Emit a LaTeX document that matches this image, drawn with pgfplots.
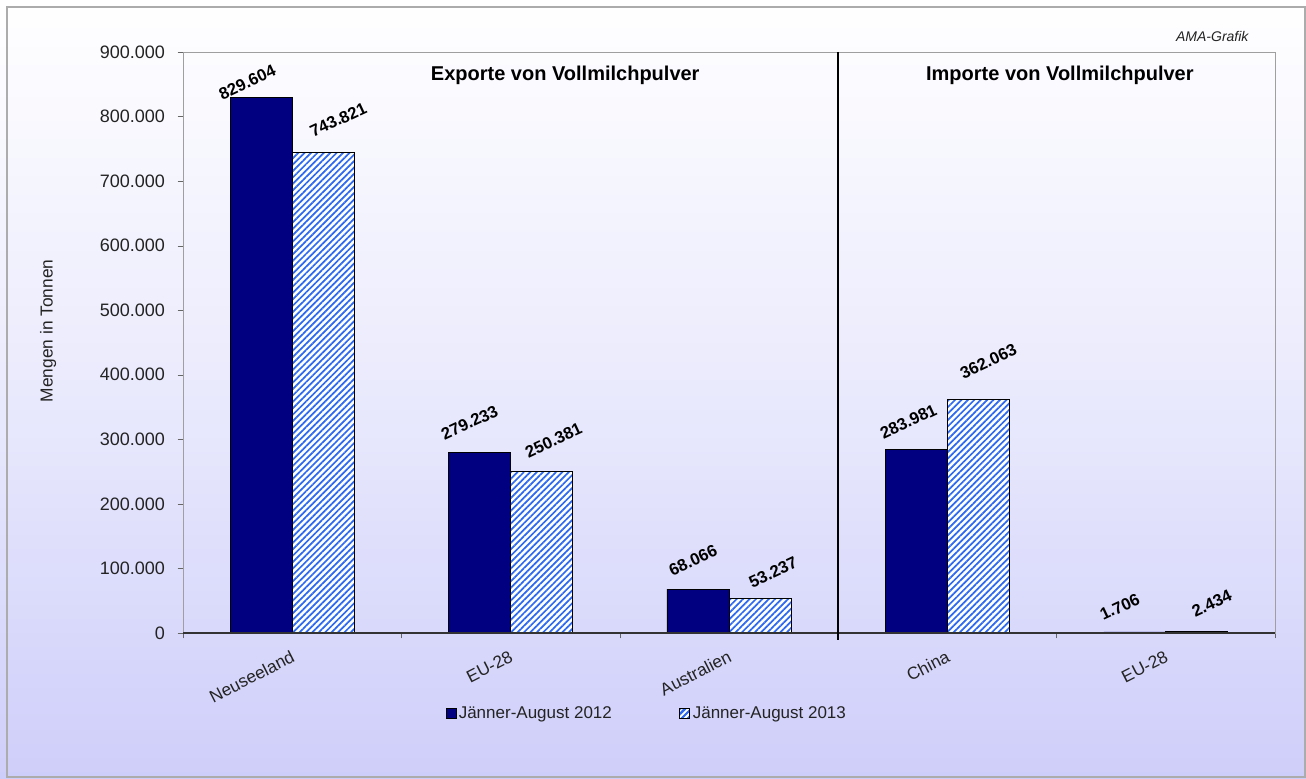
\documentclass[border=0pt]{standalone}
\usepackage{pgfplots}
\pgfplotsset{compat=1.18}
\usepackage{pgfplotstable}
\usetikzlibrary{patterns.meta}
\usepackage{fontspec}
\setmainfont{Liberation Sans}

\definecolor{navybar}{RGB}{0,0,128}
\definecolor{stripe}{RGB}{45,105,240}
\definecolor{bgbot}{RGB}{206,206,250}
\definecolor{bgmid}{RGB}{234,234,253}
\definecolor{txt}{RGB}{35,35,35}

% x = category, y = tonnes, ox/oy = label offset from category centre in px
\pgfplotstableread{
x y ox oy
0 829604 -45 15
1 279233 -41 30
2 68066 -36 29
3 283981 -39 28
4 1706 -46 25
}\janaug

\pgfplotstableread{
x y ox oy
0 743821 46 33
1 250381 43 31
2 53237 44 26
3 362063 41 38
4 2434 46 28
}\janaugb

\begin{document}
\begin{tikzpicture}
\shade[top color=white, bottom color=bgbot, middle color=bgmid] (0,0) rectangle (979.5pt,583.5pt);
\draw[gray!65, line width=1pt] (5.25pt,0.75pt) rectangle (978.75pt,578.25pt);
\begin{axis}[
  at={(137.25pt,108.75pt)}, anchor=south west,
  scale only axis, width=819pt, height=435.75pt,
  xmin=-0.5, xmax=4.5, ymin=0, ymax=900000,
  xtick={0,...,4},
  xticklabels={Neuseeland,EU-28,Australien,China,EU-28},
  minor xtick={-0.5,0.5,...,4.5},
  major x tick style={draw=none},
  ytick={0,100000,...,900000},
  scaled y ticks=false,
  tick align=outside, xtick pos=bottom, ytick pos=left,
  major tick length=4pt, minor tick length=4pt,
  tick style={gray!80!black},
  axis line style={gray!75},
  /pgf/number format/assume math mode=true,
  /pgf/number format/fixed,
  /pgf/number format/1000 sep={.},
  yticklabel style={/pgf/number format/fixed, /pgf/number format/precision=0},
  ticklabel style={font=\fontsize{13.5}{16}\selectfont, text=txt},
  yticklabel shift=6pt,
  xticklabel style={rotate=27, anchor=north east, font=\fontsize{13}{15}\selectfont},
  xticklabel shift=4pt,
  ylabel={Mengen in Tonnen},
  every axis y label/.style={at={(axis description cs:-0.1236,0.52)}, rotate=90, anchor=center, font=\fontsize{13}{15}\selectfont, text=txt},
  legend style={at={(0.425,-0.138)}, anchor=center, draw=none, fill=none,
    font=\fontsize{12.75}{15}\selectfont, text=txt,
    /tikz/every even column/.append style={column sep=48pt}},
  legend columns=2,
  clip=false,
  nodes near coords={\pgfmathprintnumber[fixed]{\pgfplotspointmeta}},
  nodes near coords align=center,
  visualization depends on={\thisrow{ox} \as \offx},
  visualization depends on={\thisrow{oy} \as \offy},
  every node near coord/.append style={anchor=center, xshift={\offx*0.75pt}, yshift={\offy*0.75pt}, rotate=25,
    font=\bfseries\fontsize{12.5}{15}\selectfont, text=black},
]
\addplot[ybar, bar width=0.284, bar shift=-0.142, fill=navybar, draw=black, line width=0.5pt,
  legend image code/.code={\draw[fill=navybar, draw=black, line width=0.4pt] (0pt,-3.8pt) rectangle (7.5pt,3.8pt);}]
  table[x=x, y=y] {\janaug};
\addlegendentry{Jänner-August 2012}
\addplot[ybar, bar width=0.284, bar shift=0.142, fill=white, draw=black, line width=0.5pt,
  postaction={pattern={Lines[angle=45, distance=3.4pt, line width=1.3pt]}, pattern color=stripe},
  legend image code/.code={\draw[fill=white, draw=black, line width=0.4pt, postaction={pattern={Lines[angle=45, distance=3pt, line width=1.2pt]}, pattern color=stripe}] (0pt,-3.8pt) rectangle (7.5pt,3.8pt);}]
  table[x=x, y=y] {\janaugb};
\addlegendentry{Jänner-August 2013}

\draw[black!80, line width=0.8pt] (rel axis cs:0,0) -- (rel axis cs:1,0);
\draw[black, line width=1.2pt] (axis cs:2.5,900000) -- ([yshift=-5pt]axis cs:2.5,0);
\node[font=\bfseries\fontsize{15}{18}\selectfont] at (rel axis cs:0.35,0.96) {Exporte von Vollmilchpulver};
\node[font=\bfseries\fontsize{15}{18}\selectfont] at (rel axis cs:0.803,0.96) {Importe von Vollmilchpulver};
\node[anchor=east, font=\itshape\fontsize{10.5}{12}\selectfont, text=txt] at (rel axis cs:0.98,1.026) {AMA-Grafik};
\end{axis}
\end{tikzpicture}
\end{document}
